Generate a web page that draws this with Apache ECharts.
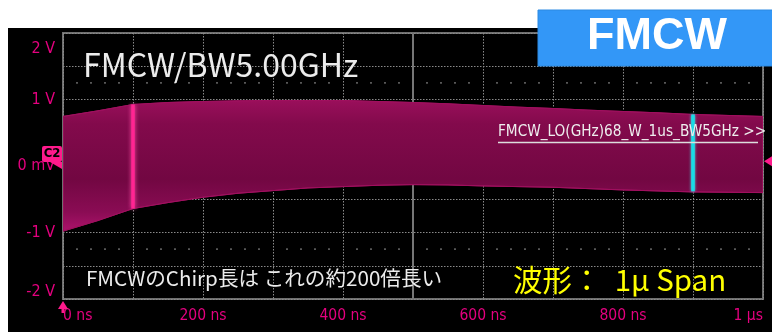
<!DOCTYPE html>
<html>
<head>
<meta charset="utf-8">
<script src="https://cdn.jsdelivr.net/npm/echarts@6/dist/echarts.min.js"></script>
<style>
  html, body { margin: 0; padding: 0; background: #ffffff; }
  #scope { width: 772px; height: 332px; }
</style>
</head>
<body>
<div id="scope"></div>
<script>
// Channel 2 capture: chirp envelope over a 1 µs span
const timeNs = [0, 50, 100, 150, 200, 250, 300, 350, 400, 450, 500,
                550, 600, 650, 700, 750, 800, 850, 900, 950, 1000];
const envTopV = [0.745, 0.83, 0.925, 0.955, 0.97, 0.98, 0.985, 0.985, 0.985, 0.97, 0.955,
                 0.935, 0.91, 0.885, 0.865, 0.84, 0.82, 0.80, 0.775, 0.76, 0.745];
const envBottomV = [-0.98, -0.82, -0.64, -0.55, -0.47, -0.41, -0.37, -0.33, -0.31, -0.29, -0.28,
                    -0.285, -0.30, -0.31, -0.32, -0.34, -0.36, -0.375, -0.39, -0.395, -0.40];

// Cursor markers (time in ns, [low V, high V])
const pinkCursorNs = 100;
const pinkCursorV = [-0.64, 0.925];
const cyanCursorNs = 900;
const cyanCursorV = [-0.38, 0.775];

// Axis ticks and their labels
const xTicks = [0, 200, 400, 600, 800, 1000];
const xTickLabels = ['0 ns', '200 ns', '400 ns', '600 ns', '800 ns', '1 µs'];
const yTicks = [2, 1, 0, -1, -2];
const yTickLabels = ['2 V', '1 V', '0 mV', '-1 V', '-2 V'];

// Trigger position / level and the graticule minor-dot rows
const triggerTimeNs = 0;
const triggerLevelV = 0.07;
const minorDotRowsV = [1.25, -1.25];
const minorDotStepNs = 20;

const X_MIN = 0, X_MAX = 1000, Y_MIN = -2, Y_MAX = 2;
const NARROW = "'DejaVu Sans Condensed', 'Liberation Sans', Arial, sans-serif";
const JP = "'Noto Sans CJK JP', 'Noto Sans', sans-serif";
const AXIS_PINK = '#e4007f';

const minorDots = [];
minorDotRowsV.forEach(v => {
  for (let t = X_MIN + minorDotStepNs; t < X_MAX; t += minorDotStepNs) {
    if (t % 100 !== 0) minorDots.push([t, v]);
  }
});
const centerTimeNs = (X_MIN + X_MAX) / 2;

const envelopeData = timeNs.map((t, i) => [t, envTopV[i], envBottomV[i]]);

// Envelope: one closed polygon, upper edge left→right then lower edge right→left
function renderEnvelope(params, api) {
  if (params.dataIndex !== 0) return null;
  const upper = envelopeData.map(d => api.coord([d[0], d[1]]));
  const lower = envelopeData.map(d => api.coord([d[0], d[2]])).reverse();
  return {
    type: 'polygon',
    shape: { points: upper.concat(lower) },
    style: {
      fill: new echarts.graphic.LinearGradient(0, 0, 0, 1, [
        { offset: 0, color: '#9a0f5b' },
        { offset: 0.18, color: '#830a4c' },
        { offset: 0.6, color: '#720742' },
        { offset: 0.85, color: '#8a0c54' },
        { offset: 1, color: '#ad136c' }
      ]),
      stroke: '#a0105f',
      lineWidth: 1
    }
  };
}

const chart = echarts.init(document.getElementById('scope'), null, { renderer: 'canvas' });

chart.setOption({
  backgroundColor: 'transparent',
  animation: false,
  grid: {
    left: 63, top: 33, width: 700, height: 266,
    show: true, borderColor: '#707070', borderWidth: 2, backgroundColor: 'transparent'
  },
  xAxis: {
    type: 'value', min: X_MIN, max: X_MAX, interval: 100,
    axisLine: { show: false }, axisTick: { show: false },
    splitLine: { show: true, lineStyle: { color: '#8a8a8a', type: [1.5, 1.5], width: 1 } },
    axisLabel: {
      color: AXIS_PINK, fontFamily: NARROW, fontSize: 15.5, margin: 9,
      alignMinLabel: 'left', alignMaxLabel: 'right',
      formatter: v => { const i = xTicks.indexOf(v); return i >= 0 ? xTickLabels[i] : ''; }
    }
  },
  yAxis: {
    type: 'value', min: Y_MIN, max: Y_MAX, interval: 0.5,
    axisLine: { show: false }, axisTick: { show: false },
    splitLine: { show: true, lineStyle: { color: '#8a8a8a', type: [1.5, 1.5], width: 1 } },
    axisLabel: {
      margin: 8,
      formatter: v => {
        const i = yTicks.indexOf(v);
        if (i < 0) return '';
        const s = yTickLabels[i];
        if (v === Y_MAX) return '{gapT|\u00a0}\n{t|' + s + '}';
        if (v === Y_MIN) return '{t|' + s + '}\n{gapB|\u00a0}';
        return '{t|' + s + '}';
      },
      rich: {
        t: { color: AXIS_PINK, fontFamily: NARROW, fontSize: 16, lineHeight: 18 },
        gapT: { fontSize: 8, lineHeight: 32 },
        gapB: { fontSize: 8, lineHeight: 14 }
      }
    }
  },
  series: [
    {
      name: 'graticule',
      type: 'scatter',
      data: minorDots,
      symbol: 'rect', symbolSize: 1.6,
      itemStyle: { color: '#8a8a8a' },
      silent: true, z: 1
    },
    {
      name: 'centerLine',
      type: 'line',
      data: [[centerTimeNs, Y_MIN], [centerTimeNs, Y_MAX]],
      symbol: 'none',
      lineStyle: { color: '#767676', type: 'solid', width: 2 },
      silent: true, z: 1
    },
    {
      // separate canvas layer so the trace always covers the graticule
      name: 'envelope',
      type: 'custom',
      data: envelopeData,
      encode: { x: 0, y: [1, 2] },
      renderItem: renderEnvelope,
      clip: true, silent: true, zlevel: 1, z: 2
    },
    {
      name: 'cursorPink',
      type: 'line',
      data: pinkCursorV.map(v => [pinkCursorNs, v]),
      symbol: 'none',
      lineStyle: { color: '#ff2592', width: 3.5, shadowBlur: 4, shadowColor: '#ff4aa8' },
      silent: true, zlevel: 1, z: 5
    },
    {
      name: 'cursorCyan',
      type: 'line',
      data: cyanCursorV.map(v => [cyanCursorNs, v]),
      symbol: 'none',
      lineStyle: { color: '#18dbe6', width: 3.5, shadowBlur: 3, shadowColor: '#4ff0f5' },
      silent: true, zlevel: 1, z: 5
    }
  ]
});

// Screen furniture: frame, captions, channel / trigger markers
const toPx = (x, y) => chart.convertToPixel({ gridIndex: 0 }, [x, y]);
const zero = toPx(triggerTimeNs, 0);
const trigBottom = toPx(triggerTimeNs, Y_MIN);
const levelRight = toPx(X_MAX, triggerLevelV);
const PINK = '#ff1a8c';

chart.setOption({
  graphic: [
    { type: 'rect', zlevel: 0, z: -10, silent: true, shape: { x: 8, y: 28, width: 764, height: 304 }, style: { fill: '#000000' } },
    { type: 'text', zlevel: 1, z: 20, silent: true, x: 83, y: 65,
      style: { text: 'FMCW/BW5.00GHz', fill: '#ececec', font: '32px ' + JP, textVerticalAlign: 'middle' } },
    { type: 'text', zlevel: 1, z: 20, silent: true, x: 86, y: 278,
      style: { text: 'FMCWのChirp長は これの約200倍長い', fill: '#ececec', font: '20.6px ' + JP, textVerticalAlign: 'middle' } },
    { type: 'text', zlevel: 1, z: 20, silent: true, x: 513, y: 280,
      style: { text: '波形：  1μ Span', fill: '#ffff00', font: '29.5px ' + JP, textVerticalAlign: 'middle' } },
    { type: 'text', zlevel: 1, z: 20, silent: true, x: 498, y: 132,
      style: { text: 'FMCW_LO(GHz)68_W_1us_BW5GHz >>', fill: '#eeeeee', font: '15.2px ' + NARROW, textVerticalAlign: 'middle' } },
    { type: 'line', zlevel: 1, z: 20, silent: true, shape: { x1: 498, y1: 142.5, x2: 758, y2: 142.5 }, style: { stroke: '#dddddd', lineWidth: 1.5 } },
    // channel 2 offset marker
    { type: 'rect', zlevel: 1, z: 20, silent: true, shape: { x: zero[0] - 21, y: zero[1] - 20, width: 20, height: 16, r: 2 }, style: { fill: PINK } },
    { type: 'text', zlevel: 1, z: 21, silent: true, x: zero[0] - 11, y: zero[1] - 12,
      style: { text: 'C2', fill: '#000000', font: 'bold 13px ' + NARROW, textAlign: 'center', textVerticalAlign: 'middle' } },
    { type: 'polygon', zlevel: 1, z: 20, silent: true,
      shape: { points: [[zero[0] - 13, zero[1] - 4], [zero[0] - 1, zero[1] - 4], [zero[0] - 1, zero[1] + 3]] }, style: { fill: PINK } },
    // trigger position arrow
    { type: 'polygon', zlevel: 1, z: 20, silent: true,
      shape: { points: [[trigBottom[0], trigBottom[1] + 2], [trigBottom[0] - 5, trigBottom[1] + 10], [trigBottom[0] + 5, trigBottom[1] + 10]] }, style: { fill: PINK } },
    { type: 'rect', zlevel: 1, z: 20, silent: true, shape: { x: trigBottom[0] - 1.5, y: trigBottom[1] + 9, width: 3, height: 5 }, style: { fill: PINK } },
    // trigger level arrow
    { type: 'polygon', zlevel: 1, z: 20, silent: true,
      shape: { points: [[levelRight[0] + 1, levelRight[1]], [levelRight[0] + 9, levelRight[1] - 5], [levelRight[0] + 9, levelRight[1] + 5]] }, style: { fill: PINK } },
    // FMCW tag
    { type: 'rect', zlevel: 1, z: 22, silent: true, shape: { x: 538, y: 10, width: 240, height: 56 }, style: { fill: '#3397f7', stroke: '#2c8ae2', lineWidth: 1 } },
    { type: 'text', zlevel: 1, z: 23, silent: true, x: 657, y: 37,
      style: { text: 'FMCW', fill: '#ffffff', font: 'bold 45px "Liberation Sans", Arial, sans-serif', textAlign: 'center', textVerticalAlign: 'middle' } }
  ]
});
</script>
</body>
</html>
